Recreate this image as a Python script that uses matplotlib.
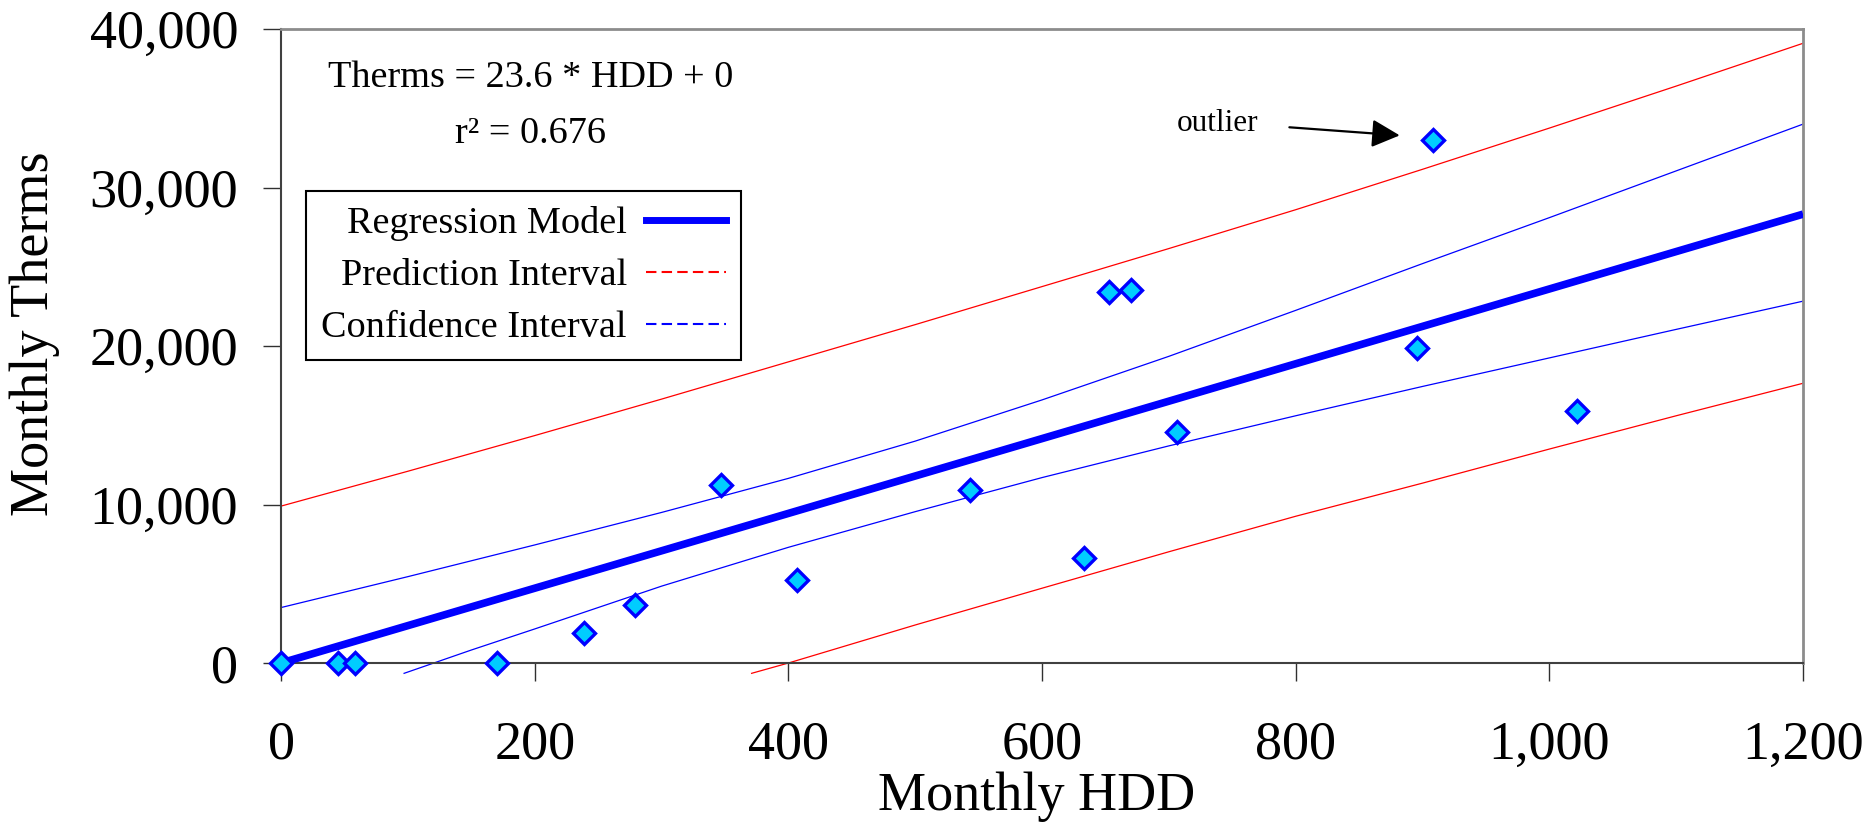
import matplotlib
matplotlib.use("Agg")
import matplotlib.pyplot as plt
from matplotlib.lines import Line2D
from matplotlib.ticker import FuncFormatter

plt.rcParams['font.family'] = ['Liberation Serif', 'DejaVu Serif']

# observed monthly data
hdd    = [0, 45, 58, 170, 239, 279, 347, 407, 543, 633, 653, 670, 706, 896, 908, 1022]
therms = [0, 0, 0, 0, 1920, 3650, 11250, 5250, 10890, 6620, 23390, 23520, 14580, 19880, 32980, 15920]

# regression model
reg_x = [0, 1200]
reg_y = [0, 28320]

# prediction interval (red)
pi_up_x = [0, 100, 200, 300, 400, 500, 600, 700, 800, 900, 1000, 1100, 1200]
pi_up_y = [9900, 12100, 14350, 16650, 19000, 21350, 23750, 26150, 28600, 31150, 33750, 36400, 39100]
pi_lo_x = [371, 400, 500, 600, 700, 800, 900, 1000, 1100, 1200]
pi_lo_y = [-650, 0, 2400, 4720, 7020, 9260, 11350, 13500, 15600, 17650]

# confidence interval (blue)
ci_up_x = [0, 100, 200, 300, 400, 500, 600, 700, 800, 900, 1000, 1100, 1200]
ci_up_y = [3500, 5450, 7450, 9500, 11650, 14000, 16600, 19350, 22250, 25200, 28100, 31050, 34000]
ci_lo_x = [97, 150, 200, 300, 400, 500, 600, 700, 800, 900, 1000, 1100, 1200]
ci_lo_y = [-650, 820, 2150, 4850, 7300, 9550, 11700, 13700, 15600, 17450, 19250, 21050, 22830]

x_ticks = [0, 200, 400, 600, 800, 1000, 1200]
y_ticks = [0, 10000, 20000, 30000, 40000]

fig = plt.figure(figsize=(18.7, 8.22), dpi=100)
ax = fig.add_axes([0.1503, 0.1934, 0.8139, 0.7713])

ax.plot(pi_up_x, pi_up_y, color='#ff0000', lw=0.9, zorder=2)
ax.plot(pi_lo_x, pi_lo_y, color='#ff0000', lw=0.9, zorder=2, clip_on=False)
ax.plot(ci_up_x, ci_up_y, color='#0000ff', lw=0.9, zorder=2)
ax.plot(ci_lo_x, ci_lo_y, color='#0000ff', lw=0.9, zorder=2, clip_on=False)
ax.plot(reg_x, reg_y, color='#0000ff', lw=5.5, zorder=3, solid_capstyle='butt')
ax.plot(hdd, therms, linestyle='none', marker='D', ms=11, mfc='#00ccff',
        mec='#0000ff', mew=2.4, zorder=5, clip_on=False)

ax.set_xlim(0, 1200)
ax.set_ylim(0, 40000)
ax.set_xticks(x_ticks)
ax.set_yticks(y_ticks)
fmt = FuncFormatter(lambda v, p: '{:,.0f}'.format(v))
ax.xaxis.set_major_formatter(fmt)
ax.yaxis.set_major_formatter(fmt)
ax.tick_params(axis='both', direction='out', length=13, width=1, color='#303030',
               labelsize=39)
ax.tick_params(axis='x', pad=28)
ax.tick_params(axis='y', pad=18)

for s in ['top', 'right']:
    ax.spines[s].set_color('#8c8c8c')
    ax.spines[s].set_linewidth(2)
for s in ['left', 'bottom']:
    ax.spines[s].set_color('#404040')
    ax.spines[s].set_linewidth(1.5)

ax.set_xlabel('Monthly HDD', fontsize=39)
ax.set_ylabel('Monthly Therms', fontsize=39)
ax.xaxis.set_label_coords(0.4967, -0.171)
ax.yaxis.set_label_coords(-0.145, 0.519)

# equation
ax.text(0.164, 0.9085, 'Therms = 23.6 * HDD + 0', transform=ax.transAxes,
        ha='center', va='baseline', fontsize=27.5)
ax.text(0.164, 0.820, 'r\u00b2 = 0.676', transform=ax.transAxes,
        ha='center', va='baseline', fontsize=27.5)

# outlier note
ax.text(706, 33540, 'outlier', fontsize=22.5, va='baseline')
ax.annotate('', xy=(882, 33290), xytext=(795, 33800),
            arrowprops=dict(arrowstyle='-|>,head_length=0.4,head_width=0.2',
                            mutation_scale=43, lw=1.6, color='black',
                            shrinkA=0, shrinkB=0))

handles = [
    Line2D([], [], color='#0000ff', lw=5),
    Line2D([], [], color='#ff0000', lw=1.5, dashes=(5, 2.5)),
    Line2D([], [], color='#0000ff', lw=1.5, dashes=(5, 2.5)),
]
labels = ['Regression Model', 'Prediction Interval', 'Confidence Interval']
leg = ax.legend(handles, labels, loc='upper left', bbox_to_anchor=(0.0164, 0.7445),
                borderaxespad=0, markerfirst=False, fontsize=27.5, handlelength=2.1,
                handletextpad=0.5, labelspacing=0.45, borderpad=0.4,
                fancybox=False, framealpha=1)
leg.get_frame().set_edgecolor('black')
leg.get_frame().set_linewidth(1.5)

fig.savefig('out.png', dpi=100)
